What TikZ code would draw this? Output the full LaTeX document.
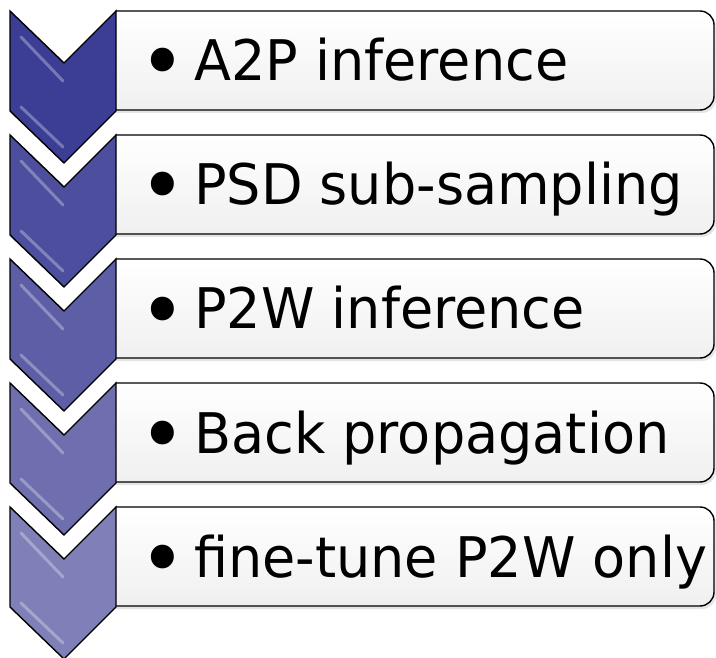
\documentclass[tikz,border=0pt]{standalone}
\usepackage{fontspec}
\setmainfont{DejaVu Sans}[FakeStretch=0.965]
\usetikzlibrary{positioning,calc}
\definecolor{chevdark}{RGB}{60,61,148}
\definecolor{chevlight}{RGB}{128,128,184}

\begin{document}
\begin{tikzpicture}[x=1pt,y=-1pt,
chevron/.style={
  draw=black,
  line width=1.4pt,
  line join=miter},
stepbox/.style={
  draw=black,
  line width=1.4pt,
  rounded corners=14pt,
  top color=white,
  bottom color=black!6},
boxshadow/.style={
  fill=black!10,
  rounded corners=14pt},
bevel/.style={
  white,
  opacity=0.3,
  line width=3pt,
  line cap=round},
stepdot/.style={
  anchor=base,
  inner sep=0pt,
  font=\fontsize{82}{82}\selectfont},
steptext/.style={
  anchor=base west,
  inner sep=0pt,
  font=\fontsize{56}{60}\selectfont}
]
\useasboundingbox (0,0) rectangle (716,658);
\foreach \Txt [count=\i from 0] in {A2P inference,PSD sub-sampling,P2W inference,Back propagation,fine-tune P2W only}{
  \pgfmathsetmacro{\top}{11+124*\i}
  \pgfmathsetmacro{\mix}{100-25*\i}
  % box with shadow, left end hidden by the clip
  \begin{scope}
    \clip (115.3,\top-3) rectangle (716,\top+105);
    \fill[boxshadow] (98,\top+2) rectangle (716,\top+102);
    \draw[stepbox] (96,\top) rectangle (714,\top+99);
  \end{scope}
  % chevron
  \coordinate (TL\i) at (10,\top);
  \coordinate (N\i) at (64,\top+52);
  \coordinate (TR\i) at (116,\top);
  \coordinate (BR\i) at (116,\top+100);
  \coordinate (T\i) at (64,\top+152);
  \coordinate (BL\i) at (10,\top+100);
  \draw[chevron, fill=chevdark!\mix!chevlight]
    (TL\i) -- (N\i) -- (TR\i) -- (BR\i) -- (T\i) -- (BL\i) -- cycle;
  \draw[bevel] ($(TL\i)+(11,26)$) -- ($(N\i)+(-1,18)$);
  \draw[bevel] ($(BL\i)+(11,-4)$) -- ($(T\i)+(-1,-16)$);
  \node[stepdot] (dot\i) at (163,\top+80) {•};
  \node[steptext] (txt\i) at (194,\top+70) {\Txt};
}
\end{tikzpicture}
\end{document}
